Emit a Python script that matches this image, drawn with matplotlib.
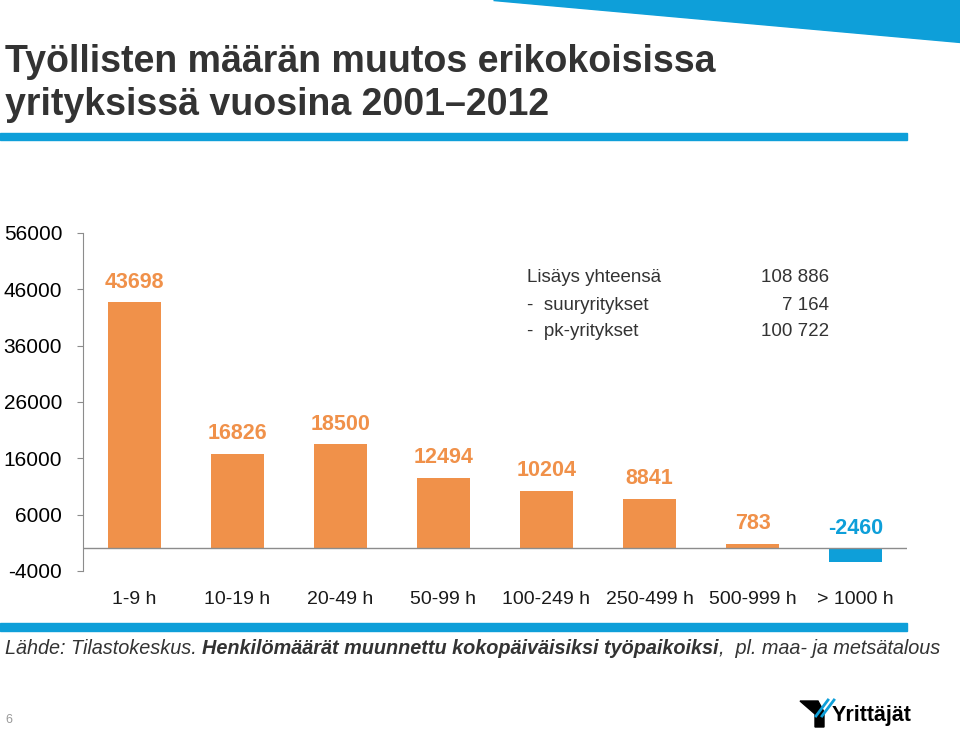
import matplotlib
matplotlib.use("Agg")
import matplotlib.pyplot as plt
from matplotlib.patches import Polygon, Rectangle
from matplotlib import font_manager

# data
categories = ["1-9 h", "10-19 h", "20-49 h", "50-99 h", "100-249 h",
              "250-499 h", "500-999 h", "> 1000 h"]
changes = [43698, 16826, 18500, 12494, 10204, 8841, 783, -2460]
y_ticks = [-4000, 6000, 16000, 26000, 36000, 46000, 56000]
summary_labels = ["Lisäys yhteensä", "-  suuryritykset", "-  pk-yritykset"]
summary_values = ["108 886", "7 164", "100 722"]

ORANGE = "#F0914A"
BLUE = "#0E9FD9"
W, H = 960, 733

names = {f.name for f in font_manager.fontManager.ttflist}
narrow = "Liberation Sans Narrow" if "Liberation Sans Narrow" in names else "Liberation Sans"
plt.rcParams["font.family"] = ["Liberation Sans", "DejaVu Sans"]


def fx(x):
    return x / W


def fy(y):
    return 1 - y / H


fig = plt.figure(figsize=(W / 100, H / 100), dpi=100)

# decoration: blue triangle top right, blue rules
fig.patches.append(Polygon([(fx(493), fy(0)), (fx(960), fy(0)), (fx(960), fy(42))],
                           closed=True, transform=fig.transFigure, color=BLUE, zorder=0))
fig.patches.append(Rectangle((0, fy(140)), fx(907), 7 / H, transform=fig.transFigure,
                             color=BLUE, zorder=0))
fig.patches.append(Rectangle((0, fy(631)), fx(907), 8 / H, transform=fig.transFigure,
                             color=BLUE, zorder=0))

# title
fig.text(fx(5), fy(62), "Työllisten määrän muutos erikokoisissa", family=narrow,
         fontsize=27, fontweight="bold", color="#333333", va="center")
fig.text(fx(5), fy(105), "yrityksissä vuosina 2001\u20132012", family=narrow,
         fontsize=27, fontweight="bold", color="#333333", va="center")

# chart
ax = fig.add_axes([fx(83), fy(571), fx(907) - fx(83), (571 - 233) / H])
x = list(range(len(categories)))
colors = [ORANGE if v >= 0 else BLUE for v in changes]
ax.bar(x, changes, width=0.52, color=colors, zorder=2)
ax.axhline(0, color="#8c8c8c", lw=1, zorder=3)
ax.set_xlim(-0.5, len(categories) - 0.5)
ax.set_ylim(-4000, 56000)
ax.set_yticks(y_ticks)
ax.set_yticklabels([str(t) for t in y_ticks], fontsize=15)
ax.tick_params(axis="y", direction="out", length=4, color="#8c8c8c", pad=11)
ax.set_xticks([])
for s in ["top", "right", "bottom"]:
    ax.spines[s].set_visible(False)
ax.spines["left"].set_color("#8c8c8c")

for i, v in enumerate(changes):
    ax.annotate(str(v), (i, max(v, 0)), xytext=(0, 7), textcoords="offset points",
                ha="center", va="bottom", fontsize=15.5, fontweight="bold",
                color=colors[i])

for i, c in enumerate(categories):
    ax.annotate(c, (i, 0), xycoords=("data", "figure fraction"),
                xytext=(i, fy(600)), textcoords=("data", "figure fraction"),
                ha="center", va="center", fontsize=14, color="#1a1a1a")

# summary box
for k, (lab, val) in enumerate(zip(summary_labels, summary_values)):
    yy = fy(278 + 27 * k)
    fig.text(fx(527), yy, lab, fontsize=13.5, color="#333333", va="center")
    fig.text(fx(829), yy, val, fontsize=13.5, color="#333333", va="center", ha="right")

# footer with mixed styles
fig.canvas.draw()
r = fig.canvas.get_renderer()
parts = [("Lähde: Tilastokeskus. ", "normal"),
         ("Henkilömäärät muunnettu kokopäiväisiksi työpaikoiksi", "bold"),
         (",  pl. maa- ja metsätalous", "normal")]
xpos = 5
for txt, wt in parts:
    t = fig.text(fx(xpos), fy(648), txt, fontsize=14.3, style="italic", fontweight=wt,
                 color="#333333", va="center")
    xpos += t.get_window_extent(r).width

fig.text(fx(5), fy(720), "6", fontsize=9, color="#999999", va="center")

# logo
fig.patches.append(Polygon([(fx(800), fy(701)), (fx(818), fy(701)), (fx(824), fy(712)),
                            (fx(824), fy(727)), (fx(815), fy(727)), (fx(815), fy(714))],
                           closed=True, transform=fig.transFigure, color="black"))
for dx in (0, 6):
    fig.lines.append(plt.Line2D([fx(816 + dx), fx(828 + dx)], [fy(716), fy(700)],
                                transform=fig.transFigure, color=BLUE, lw=2))
fig.text(fx(832), fy(715), "Yrittäjät", family=narrow, fontsize=15.5, fontweight="bold",
         color="black", va="center")

fig.savefig("out.png", dpi=100)
